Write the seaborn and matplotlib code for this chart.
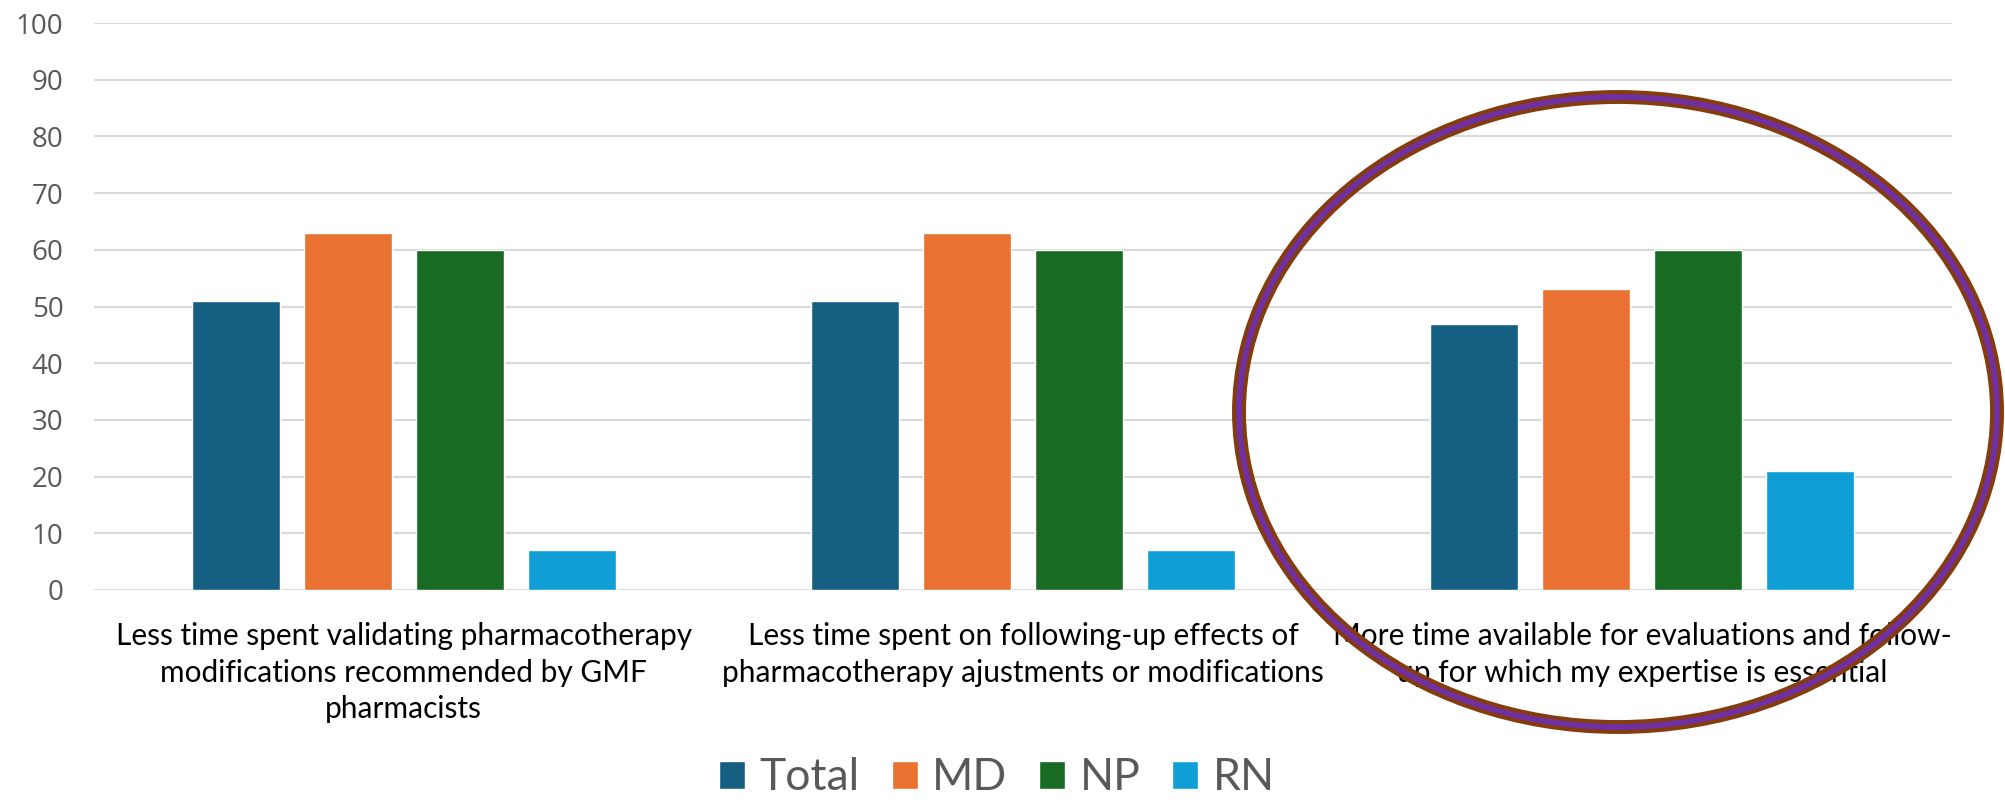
import matplotlib
matplotlib.use("Agg")
import matplotlib.pyplot as plt
from matplotlib.patches import Ellipse
import seaborn as sns
import pandas as pd

# Survey results: perceived benefits by professional group (%)
categories = [
    "Less time spent validating pharmacotherapy\nmodifications recommended by GMF\npharmacists",
    "Less time spent on following-up effects of\npharmacotherapy ajustments or modifications",
    "More time available for evaluations and follow-\nup for which my expertise is essential",
]
groups = ["Total", "MD", "NP", "RN"]
total_vals = [51, 51, 47]
md_vals = [63, 63, 53]
np_vals = [60, 60, 60]
rn_vals = [7, 7, 21]
y_ticks = [0, 10, 20, 30, 40, 50, 60, 70, 80, 90, 100]

palette = {"Total": "#156082", "MD": "#E97132", "NP": "#196B24", "RN": "#0F9ED5"}

rows = []
for g, vals in zip(groups, [total_vals, md_vals, np_vals, rn_vals]):
    for c, v in zip(categories, vals):
        rows.append({"category": c, "group": g, "value": v})
df = pd.DataFrame(rows)

sns.set_theme(style="white")
plt.rcParams["font.family"] = ["Lato", "DejaVu Sans"]

fig = plt.figure(figsize=(20.05, 8.0), dpi=100)
ax = fig.add_axes([94 / 2005, 1 - 590 / 800, (1952 - 94) / 2005, (590 - 23) / 800])

sns.barplot(data=df, x="category", y="value", hue="group", order=categories,
            hue_order=groups, palette=palette, width=0.724, gap=0.215,
            saturation=1, ax=ax, legend=True)

ax.set_ylim(0, 100)
ax.set_xlim(-0.5, 2.5)
ax.set_yticks(y_ticks)
ax.set_yticklabels([str(t) for t in y_ticks], family=["Open Sans", "DejaVu Sans"],
                   fontsize=20, color="#595959")
ax.tick_params(axis="y", length=0, pad=22)
ax.tick_params(axis="x", length=0, pad=23)
ax.set_xticks(range(len(categories)))
ax.set_xticklabels(categories, fontsize=21.5, color="#000000", linespacing=1.38,
                   family=["Lato", "DejaVu Sans"])
ax.set_xlabel("")
ax.set_ylabel("")
ax.yaxis.grid(True, color="#d9d9d9", linewidth=1.5)
ax.set_axisbelow(True)
for s in ax.spines.values():
    s.set_visible(False)

handles, labels = ax.get_legend_handles_labels()
ax.get_legend().remove()
fig.legend(handles, labels, loc="center", bbox_to_anchor=(997 / 2005, 1 - 778 / 800),
           ncol=4, frameon=False, prop={"family": ["Lato", "DejaVu Sans"], "size": 32},
           labelcolor="#595959", handlelength=0.585, handleheight=0.585,
           handletextpad=0.32, columnspacing=0.72, borderpad=0.05)

# Highlight ring around the third category
cx, cy, w, h = 1618 / 2005, 1 - 412 / 800, 758 / 2005, 630 / 800
fig.add_artist(Ellipse((cx, cy), w, h, transform=fig.transFigure, fill=False,
                       edgecolor="#843C0C", linewidth=10, clip_on=False))
fig.add_artist(Ellipse((cx, cy), w, h, transform=fig.transFigure, fill=False,
                       edgecolor="#7030A0", linewidth=4.3, clip_on=False))

fig.savefig("out.png", dpi=100)
